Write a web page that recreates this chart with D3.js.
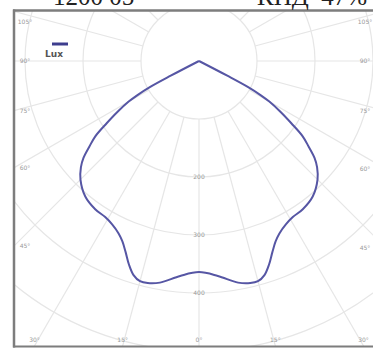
<!DOCTYPE html>
<html><head><meta charset="utf-8">
<script src="https://cdn.jsdelivr.net/npm/d3@7"></script>
<style>html,body{margin:0;padding:0;background:#fff;overflow:hidden}svg{display:block}</style>
</head><body><svg id="c" width="373" height="351"></svg>
<script>
// ---- data ----
const titleLeft = "1200 05";
const titleRight = "КПД  47%";
const angleDeg = [0, 5, 10, 13, 15, 17, 19, 21, 23, 25, 28, 31, 35, 40, 45, 48, 50, 52, 54, 56, 58, 60, 61, 62, 62.5, 63, 90, 180];
const intensityCd = [364, 372, 388, 393, 393, 386, 371, 353, 338, 328, 319, 314, 312, 305, 289, 274, 260, 240, 221, 192, 166, 140, 122, 96, 55, 0, 0, 0];
const ringValues = [100, 200, 300, 400, 500, 600, 700];
const ringLabelValues = [200, 300, 400];
const rayAngles = [0, 15, 30, 45, 60, 75, 90, 105, 120, 135, 150, 165, 180];
const labelAngles = [0, 15, 30, 45, 60, 75, 90, 105];
const legendLabel = "Lux";

// ---- layout ----
const W = 373, H = 351;
const frame = {left: 14, top: 11, right: 386, bottom: 346};
const cx = 199, cy = 61;
const r = d3.scaleLinear().domain([0, 100]).range([0, 58]);
const rad = d => d * Math.PI / 180;

const svg = d3.select("#c");
svg.append("rect").attr("width", W).attr("height", H).attr("fill", "#fff");

svg.append("defs").append("clipPath").attr("id", "clip")
  .append("rect").attr("x", frame.left).attr("y", frame.top)
  .attr("width", frame.right - frame.left).attr("height", frame.bottom - frame.top);

const g = svg.append("g").attr("clip-path", "url(#clip)");
const pg = g.append("g").attr("transform", `translate(${cx},${cy})`);

const gridColor = "#e6e6e6";
// rings
pg.selectAll("circle.ring").data(ringValues).join("circle")
  .attr("class", "ring").attr("r", d => r(d))
  .attr("fill", "none").attr("stroke", gridColor).attr("stroke-width", 1.2);

// rays (both sides)
const rays = rayAngles.flatMap(a => a === 0 || a === 180 ? [a] : [a, -a]);
pg.selectAll("line.ray").data(rays).join("line")
  .attr("class", "ray")
  .attr("x1", d => r(100) * Math.sin(rad(d)))
  .attr("y1", d => r(100) * Math.cos(rad(d)))
  .attr("x2", d => r(800) * Math.sin(rad(d)))
  .attr("y2", d => r(800) * Math.cos(rad(d)))
  .attr("stroke", gridColor).attr("stroke-width", 1.2);

// ring labels on the vertical axis
pg.selectAll("text.rl").data(ringLabelValues).join("text")
  .attr("class", "rl").attr("x", 0).attr("y", d => r(d) + 2)
  .attr("text-anchor", "middle").attr("font-family", "DejaVu Sans")
  .attr("font-size", 6).attr("fill", "#999").text(d => d);

// intensity curve: starts and ends at the origin (sharp apex), mirrored halves
const pts = [[0, 0]];
for (let i = angleDeg.length - 1; i >= 0; i--) {
  if (intensityCd[i] > 0) pts.push([Math.PI - rad(angleDeg[i]), r(intensityCd[i])]);
}
for (let i = 1; i < angleDeg.length; i++) {
  if (intensityCd[i] > 0) pts.push([Math.PI + rad(angleDeg[i]), r(intensityCd[i])]);
}
pts.push([0, 0]);
const line = d3.lineRadial().angle(d => d[0]).radius(d => d[1]).curve(d3.curveCatmullRom.alpha(0.5));
pg.append("path").attr("d", line(pts)).attr("fill", "none")
  .attr("stroke", "#5656a4").attr("stroke-width", 2).attr("stroke-linejoin", "round");

// angle labels at the frame
const inset = {left: 25, top: 22, right: 365, bottom: 340};
function hitFrame(deg) {
  const dx = Math.sin(rad(deg)), dy = Math.cos(rad(deg));
  let t = Infinity;
  if (dx < 0) t = Math.min(t, (frame.left - cx) / dx);
  if (dx > 0) t = Math.min(t, (frame.right - cx) / dx);
  if (dy > 0) t = Math.min(t, (frame.bottom - cy) / dy);
  if (dy < 0) t = Math.min(t, (frame.top - cy) / dy);
  const x = Math.max(inset.left, Math.min(inset.right, cx + dx * t));
  const y = Math.max(inset.top, Math.min(inset.bottom, cy + dy * t));
  return [x, y];
}
const labs = labelAngles.flatMap(a => a === 0 ? [a] : [a, -a]);
svg.selectAll("text.al").data(labs).join("text")
  .attr("class", "al")
  .attr("x", d => hitFrame(d)[0]).attr("y", d => hitFrame(d)[1] + 2)
  .attr("text-anchor", "middle").attr("font-family", "DejaVu Sans")
  .attr("font-size", 6).attr("fill", "#999").text(d => Math.abs(d) + "°");

// legend
svg.append("line").attr("x1", 52).attr("x2", 68).attr("y1", 44).attr("y2", 44)
  .attr("stroke", "#3e3e8e").attr("stroke-width", 3);
svg.append("text").attr("x", 45).attr("y", 57).attr("font-family", "DejaVu Sans")
  .attr("font-weight", "bold").attr("font-size", 9).attr("fill", "#555").text(legendLabel);

// frame
const fc = "#7d7d7d";
svg.append("line").attr("x1", frame.left - 1).attr("x2", W).attr("y1", frame.top - 0.5).attr("y2", frame.top - 0.5)
  .attr("stroke", fc).attr("stroke-width", 2.5);
svg.append("line").attr("x1", frame.left).attr("x2", frame.left).attr("y1", frame.top - 1.5).attr("y2", frame.bottom + 1.5)
  .attr("stroke", fc).attr("stroke-width", 2.5);
svg.append("line").attr("x1", frame.left - 1).attr("x2", W).attr("y1", frame.bottom + 0.5).attr("y2", frame.bottom + 0.5)
  .attr("stroke", fc).attr("stroke-width", 2);

// titles (partially cut at the top of the picture, as in the reference)
svg.append("text").attr("x", 53).attr("y", 5).attr("font-family", "Liberation Serif")
  .attr("font-size", 25).attr("fill", "#222").text(titleLeft);
svg.append("text").attr("x", 257).attr("y", 5).attr("font-family", "Liberation Serif")
  .attr("font-size", 25).attr("fill", "#222").style("white-space", "pre").text(titleRight);
</script></body></html>
